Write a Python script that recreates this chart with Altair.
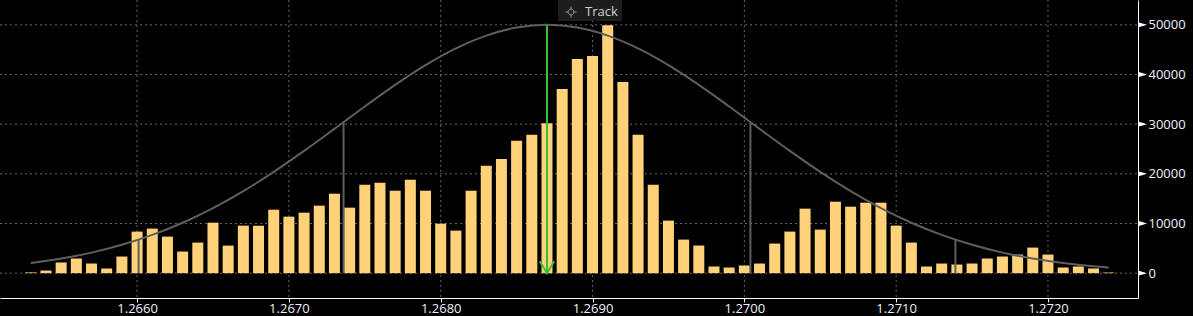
import altair as alt
import pandas as pd

# ---- data ----
prices = [
    1.2653, 1.2654, 1.2655, 1.2656, 1.2657, 1.2658, 1.2659, 1.2660, 1.2661, 1.2662,
    1.2663, 1.2664, 1.2665, 1.2666, 1.2667, 1.2668, 1.2669, 1.2670, 1.2671, 1.2672,
    1.2673, 1.2674, 1.2675, 1.2676, 1.2677, 1.2678, 1.2679, 1.2680, 1.2681, 1.2682,
    1.2683, 1.2684, 1.2685, 1.2686, 1.2687, 1.2688, 1.2689, 1.2690, 1.2691, 1.2692,
    1.2693, 1.2694, 1.2695, 1.2696, 1.2697, 1.2698, 1.2699, 1.2700, 1.2701, 1.2702,
    1.2703, 1.2704, 1.2705, 1.2706, 1.2707, 1.2708, 1.2709, 1.2710, 1.2711, 1.2712,
    1.2713, 1.2714, 1.2715, 1.2716, 1.2717, 1.2718, 1.2719, 1.2720, 1.2721, 1.2722,
    1.2723, 1.2724,
]
volumes = [
    150, 530, 2140, 2950, 1940, 940, 3350, 8370, 8970, 7360,
    4350, 6160, 10170, 5550, 9570, 9570, 12780, 11380, 12180, 13590,
    16000, 13190, 17800, 18210, 16600, 18810, 16600, 9970, 8570, 16600,
    21620, 23000, 26640, 27850, 30190, 37080, 43110, 43710, 49930, 38490,
    27850, 17800, 10580, 6760, 5560, 1340, 1140, 1540, 1940, 5960,
    8370, 12990, 8770, 14390, 13390, 14190, 14190, 9570, 6160, 1340,
    1940, 1740, 1940, 2950, 3350, 3750, 5150, 3750, 1140, 1340,
    940, 130,
]

curve_prices = [
    1.2653, 1.2655, 1.2657, 1.2659, 1.2661, 1.2663, 1.2665, 1.2667, 1.2669, 1.2671,
    1.2673, 1.2675, 1.2677, 1.2679, 1.2681, 1.2683, 1.2685, 1.2687, 1.2689, 1.2691,
    1.2693, 1.2695, 1.2697, 1.2699, 1.2701, 1.2703, 1.2705, 1.2707, 1.2709, 1.2711,
    1.2713, 1.2715, 1.2717, 1.2719, 1.2721, 1.2723, 1.2724,
]
curve_values = [
    2040, 2940, 4140, 5710, 7700, 10150, 13100, 16530, 20390, 24620,
    29060, 33560, 37910, 41880, 45260, 47830, 49450, 50000, 49450, 47830,
    45260, 41880, 37910, 33560, 29060, 24620, 20390, 16530, 13100, 10150,
    7700, 5710, 4140, 2940, 2040, 1380, 1130,
]

sigma_prices = [1.26601, 1.26736, 1.27004, 1.27139]
sigma_tops = [6770, 30330, 30330, 6770]

track_price = [1.2687]
track_top = [49900]

x_ticks = [1.2660, 1.2670, 1.2680, 1.2690, 1.2700, 1.2710, 1.2720]
y_grid = [0, 10000, 20000, 30000, 40000, 50000]
y_ticks_all = [0, 5000, 10000, 15000, 20000, 25000, 30000, 35000, 40000, 45000, 50000]

# ---- styling ----
W, H = 1138, 298
FONT = "Open Sans"
LABEL = "#eef2f8"
BAR = "#ffd27a"
GREY = "#5e5e5e"
GRID = "#666666"
GREEN = "#36c236"

xscale = alt.Scale(domain=[1.26513, 1.27256], nice=False, zero=False)
yscale = alt.Scale(domain=[-5000, 55000], nice=False, zero=False)

bars_df = pd.DataFrame({"price": prices, "volume": volumes})
curve_df = pd.DataFrame({"price": curve_prices, "value": curve_values})
sigma_df = pd.DataFrame({"price": sigma_prices, "top": sigma_tops, "zero": [0] * len(sigma_prices)})
track_df = pd.DataFrame({"price": track_price, "top": track_top, "zero": [0]})
xgrid_df = pd.DataFrame({"price": x_ticks})
ygrid_df = pd.DataFrame({"value": y_grid})
one_df = pd.DataFrame({"a": [0]})

x_axis = alt.Axis(
    values=x_ticks, format=".4f", grid=False, title=None,
    domainColor="white", domainWidth=1, tickColor="white", tickSize=4, tickWidth=1,
    labelColor=LABEL, labelFont=FONT, labelFontSize=13, labelPadding=0,
    labelFlush=False,
)
y_axis = alt.Axis(
    orient="right", values=y_ticks_all, format="d", grid=False, title=None,
    labelExpr="datum.value % 10000 == 0 ? datum.label : ''",
    domainColor="white", domainWidth=1, tickColor="white", tickSize=4, tickWidth=1,
    labelColor=LABEL, labelFont=FONT, labelFontSize=13, labelPadding=6,
)

xgrid = alt.Chart(xgrid_df).mark_rule(color=GRID, strokeWidth=1, strokeDash=[2, 3]).encode(
    x=alt.X("price:Q", scale=xscale, title=None),
    y=alt.value(0), y2=alt.value(H),
)
ygrid = alt.Chart(ygrid_df).mark_rule(color=GRID, strokeWidth=1, strokeDash=[2, 3]).encode(
    y=alt.Y("value:Q", scale=yscale, title=None),
    x=alt.value(0), x2=alt.value(W),
)

bars = alt.Chart(bars_df).mark_bar(color=BAR, size=11).encode(
    x=alt.X("price:Q", scale=xscale, axis=x_axis, title=None),
    y=alt.Y("volume:Q", scale=yscale, axis=y_axis, title=None),
    y2=alt.datum(0),
)

curve = alt.Chart(curve_df).mark_line(color=GREY, strokeWidth=2, interpolate="monotone").encode(
    x=alt.X("price:Q", scale=xscale, title=None),
    y=alt.Y("value:Q", scale=yscale, title=None),
)

sigma = alt.Chart(sigma_df).mark_rule(color=GREY, strokeWidth=2).encode(
    x=alt.X("price:Q", scale=xscale, title=None),
    y=alt.Y("top:Q", scale=yscale, title=None),
    y2="zero:Q",
)

shaft = alt.Chart(track_df).mark_rule(color=GREEN, strokeWidth=2).encode(
    x=alt.X("price:Q", scale=xscale, title=None),
    y=alt.Y("top:Q", scale=yscale, title=None),
    y2="zero:Q",
)
head = alt.Chart(track_df).mark_point(
    shape="M -0.6 -1 L 0 0 L 0.6 -1", size=576, filled=False,
    color=GREEN, strokeWidth=2, opacity=1,
).encode(
    x=alt.X("price:Q", scale=xscale, title=None),
    y=alt.Y("zero:Q", scale=yscale, title=None),
)

# axis tick pointers (white wedges at labelled ticks)
pointers = alt.Chart(ygrid_df).mark_point(
    shape="M 0 -0.3 L 1 0 L 0 0.3 Z", size=324, filled=True,
    color="white", strokeWidth=0, opacity=1,
).encode(
    y=alt.Y("value:Q", scale=yscale, title=None),
    x=alt.value(W),
)

# "Track" badge
badge = alt.Chart(one_df).mark_rect(color="#1d1d1d").encode(
    x=alt.value(558), x2=alt.value(622), y=alt.value(0), y2=alt.value(21),
)
badge_icon = alt.Chart(one_df).mark_point(
    shape="M -1 0 L -0.3 0 M 0.3 0 L 1 0 M 0 -1 L 0 -0.3 M 0 0.3 L 0 1 "
          "M -0.55 0 A 0.55 0.55 0 1 0 0.55 0 A 0.55 0.55 0 1 0 -0.55 0",
    size=121, filled=False, color="#8a8a8a", strokeWidth=1, opacity=1,
).encode(x=alt.value(571), y=alt.value(12))
badge_text = alt.Chart(one_df).mark_text(
    text="Track", font=FONT, fontSize=13, color="#d0d0d0",
    align="left", baseline="middle",
).encode(x=alt.value(585), y=alt.value(12))

chart = alt.layer(
    xgrid, ygrid, bars, curve, sigma, shaft, head, pointers,
    badge, badge_icon, badge_text,
).properties(
    width=W, height=H, background="#000000",
    autosize=alt.AutoSizeParams(type="none"),
    padding={"left": 0, "top": 0, "right": 55, "bottom": 18},
).configure_view(stroke=None)

chart.save("out.html", embed_options={"renderer": "svg", "actions": False})
